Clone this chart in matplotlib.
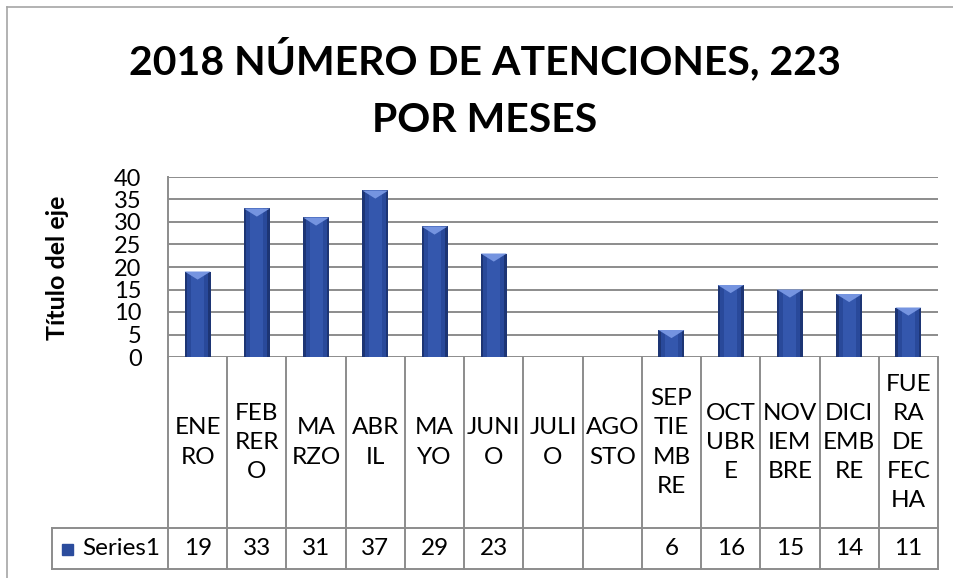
import matplotlib.pyplot as plt
import numpy as np
from matplotlib.patches import Polygon, Rectangle
from matplotlib.lines import Line2D

meses = ['ENE\nRO', 'FEB\nRER\nO', 'MA\nRZO', 'ABR\nIL', 'MA\nYO', 'JUNI\nO',
         'JULI\nO', 'AGO\nSTO', 'SEP\nTIE\nMB\nRE', 'OCT\nUBR\nE', 'NOV\nIEM\nBRE',
         'DICI\nEMB\nRE', 'FUE\nRA\nDE\nFEC\nHA']
atenciones = [19, 33, 31, 37, 29, 23, np.nan, np.nan, 6, 16, 15, 14, 11]
serie = 'Series1'
titulo = '2018 NÚMERO DE ATENCIONES, 223\nPOR MESES'
titulo_eje = 'Título del eje'
yticks = [0, 5, 10, 15, 20, 25, 30, 35, 40]

plt.rcParams['font.family'] = ['Lato', 'DejaVu Sans']

W, H = 954, 578
fig = plt.figure(figsize=(W / 100, H / 100), dpi=100)


def fx(px):
    return px / W


def fy(py):
    return 1 - py / H


grid_c = '#8c8c8c'

# marco del gráfico
fig.add_artist(Line2D([fx(7), fx(7)], [fy(7), 0], color='#a6a6a6', lw=1.2))
fig.add_artist(Line2D([fx(7), 1], [fy(7), fy(7)], color='#a6a6a6', lw=1.2))

# área del gráfico
left, right, top, bottom = 168, 938, 177, 357
ax = fig.add_axes([fx(left), fy(bottom), fx(right - left), (bottom - top) / H])
n = len(meses)
x = np.arange(n)
ax.set_xlim(-0.5, n - 0.5)
ax.set_ylim(0, 40)
ax.set_yticks(yticks)
ax.set_xticks([])
for v in yticks:
    ax.axhline(v, color=grid_c, lw=1.4, zorder=0)
for s in ['top', 'right', 'bottom']:
    ax.spines[s].set_visible(False)
ax.spines['left'].set_color(grid_c)
ax.spines['left'].set_linewidth(1.4)
ax.tick_params(axis='y', length=0, pad=19, labelsize=17)
fig.text(fx(58), fy(268), titulo_eje, rotation=90, ha='center', va='center',
         fontsize=18, fontweight='bold')

vals = np.array(atenciones, dtype=float)
bw = 0.44
ax.bar(x, vals, width=bw, color='#1d3574', zorder=2)
ax.bar(x, vals, width=bw * 0.8, color='#29499a', zorder=3)
ax.bar(x, vals, width=bw * 0.5, color='#3457ad', zorder=4)
for xi, v in zip(x, vals):
    if np.isnan(v):
        continue
    tri = Polygon([[xi - bw / 2, v], [xi + bw / 2, v], [xi, v - 1.8]],
                  closed=True, color='#7594e0', zorder=5, lw=0)
    ax.add_patch(tri)

# tabla de datos
t_left, t_bottom, t_mid = 52, 569, 528
tax = fig.add_axes([fx(left), fy(t_bottom), fx(right - left), (t_bottom - bottom) / H])
tax.set_xlim(-0.5, n - 0.5)
tax.set_ylim(0, 1)
tax.axis('off')
col_w = (right - left) / n
leg_x = -0.5 - (left - t_left) / col_w
ymid = (t_bottom - t_mid) / (t_bottom - bottom)
kw = dict(color=grid_c, lw=1.4, clip_on=False)
for b in np.arange(n + 1) - 0.5:
    tax.plot([b, b], [0, 1], **kw)
tax.plot([leg_x, leg_x], [0, ymid], **kw)
tax.plot([leg_x, n - 0.5], [0, 0], **kw)
tax.plot([leg_x, n - 0.5], [ymid, ymid], **kw)
for xi, m, v in zip(x, meses, vals):
    tax.text(xi, (1 + ymid) / 2, m, ha='center', va='center', fontsize=17.5,
             linespacing=1.48)
    if not np.isnan(v):
        tax.text(xi, ymid / 2, f'{int(v)}', ha='center', va='center', fontsize=17.5)

# clave de la serie
ky = (t_bottom + t_mid) / 2
fig.add_artist(Rectangle((fx(62), fy(ky + 6)), 11 / W, 11 / H, color='#2b4c9d'))
fig.text(fx(82), fy(ky), serie, ha='left', va='center', fontsize=17.5)

fig.text(fx(485), fy(88), titulo, ha='center', va='center', fontsize=29.5,
         fontweight='bold', linespacing=1.7)

fig.savefig('out.png', dpi=100)
